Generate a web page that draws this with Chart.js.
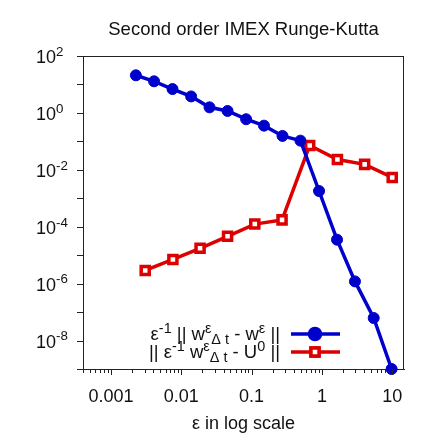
<!DOCTYPE html>
<html>
<head>
<meta charset="utf-8">
<script src="https://cdn.jsdelivr.net/npm/chart.js@4.4.1/dist/chart.umd.min.js"></script>
<style>
  body { margin: 0; background: #fff; }
  #errChart { display: block; }
</style>
</head>
<body>
<canvas id="errChart" width="436" height="436"></canvas>
<script>
// Data
const epsBlue = [0.00226, 0.0041, 0.0075, 0.0138, 0.0252, 0.0455, 0.0836, 0.15, 0.275, 0.495, 0.91, 1.64, 2.95, 5.45, 9.8];
const errBlue = [21, 12.9, 6.9, 3.8, 1.57, 1.17, 0.6, 0.357, 0.155, 0.106, 0.0018, 3.5e-5, 1.2e-6, 6.2e-8, 1.0e-9];
const epsRed = [0.00307, 0.0076, 0.0185, 0.0455, 0.111, 0.271, 0.67, 1.66, 4.05, 10];
const errRed = [2.9e-6, 7.1e-6, 1.74e-5, 4.6e-5, 1.24e-4, 1.74e-4, 0.072, 0.023, 0.0155, 0.0054];

const xDecades = [-4, -3, -2, -1, 0, 1];
const xLabels = ["0.001", "0.01", "0.1", "1", "10"];
const yExponents = [-9, -8, -7, -6, -5, -4, -3, -2, -1, 0, 1, 2];
const yLabelExponents = ["-8", "-6", "-4", "-2", "0", "2"];

const FONT = '"Liberation Sans", Arial, Helvetica, sans-serif';
const BLUE = "#0000cc";
const RED = "#dd0000";
const TITLE = "Second order IMEX Runge-Kutta";

// Legend entries as rich text pieces: [text, "n" | "sup" | "sub"]
const legendBlue = [["ε", "n"], ["-1", "sup"], [" || w", "n"], ["ε", "sup"], ["Δ t", "sub"], [" - w", "n"], ["ε", "sup"], [" ||", "n"]];
const legendRed = [["|| ε", "n"], ["-1", "sup"], [" w", "n"], ["ε", "sup"], ["Δ t", "sub"], [" - U", "n"], ["0", "sup"], [" ||", "n"]];

// Draw text with super/subscripts; align "left" or "right" at x
function drawRich(ctx, parts, x, yBase, size, ratio, align) {
  const small = size * ratio;
  let total = 0;
  parts.forEach((p) => {
    ctx.font = (p[1] === "n" ? size : small) + "px " + FONT;
    total += ctx.measureText(p[0]).width;
  });
  if (align === "right") x = x - total;
  ctx.textAlign = "left";
  ctx.textBaseline = "alphabetic";
  parts.forEach((p) => {
    ctx.font = (p[1] === "n" ? size : small) + "px " + FONT;
    let y = yBase;
    if (p[1] === "sup") y = yBase - size * 0.4;
    if (p[1] === "sub") y = yBase + size * 0.2;
    ctx.fillText(p[0], x, y);
    x += ctx.measureText(p[0]).width;
  });
}

// Title, frame, tick marks, y labels and legend
const decorPlugin = {
  id: "decor",
  afterDraw(chart) {
    const ctx = chart.ctx;
    const area = chart.chartArea;
    const xs = chart.scales.x;
    const ys = chart.scales.y;
    ctx.save();

    ctx.fillStyle = "#111";
    ctx.font = "18.5px " + FONT;
    ctx.textAlign = "center";
    ctx.textBaseline = "middle";
    ctx.fillText(TITLE, (area.left + area.right) / 2, 30);

    ctx.strokeStyle = "#222";
    ctx.lineWidth = 1;
    ctx.beginPath();
    ctx.moveTo(area.left, area.top + 0.5);
    ctx.lineTo(area.right, area.top + 0.5);
    ctx.moveTo(area.right - 0.5, area.top);
    ctx.lineTo(area.right - 0.5, area.bottom);
    ctx.stroke();

    // x ticks, major and minor
    ctx.beginPath();
    xDecades.forEach((d) => {
      for (let m = 1; m <= 9; m++) {
        const v = m * Math.pow(10, d);
        if (v < xs.min || v > xs.max) continue;
        const px = Math.round(xs.getPixelForValue(v)) + 0.5;
        ctx.moveTo(px, area.bottom);
        ctx.lineTo(px, area.bottom + (m === 1 ? 6 : 4));
      }
    });
    // y ticks, one per decade
    yExponents.forEach((e) => {
      const py = Math.round(ys.getPixelForValue(Math.pow(10, e))) + 0.5;
      ctx.moveTo(area.left, py);
      ctx.lineTo(area.left - 6, py);
    });
    ctx.stroke();

    // y labels 10^n, left aligned like the original
    ctx.fillStyle = "#111";
    yLabelExponents.forEach((e) => {
      const py = ys.getPixelForValue(Math.pow(10, Number(e)));
      drawRich(ctx, [["10", "n"], [e, "sup"]], 36, py + 7, 18, 0.74, "left");
    });

    // legend
    const rows = [
      { parts: legendBlue, y: 334, color: BLUE, idx: 0 },
      { parts: legendRed, y: 352, color: RED, idx: 1 },
    ];
    rows.forEach((r) => {
      ctx.fillStyle = "#111";
      drawRich(ctx, r.parts, 280, r.y + 6, 18.5, 0.78, "right");
      ctx.strokeStyle = r.color;
      ctx.lineWidth = 3.5;
      ctx.beginPath();
      ctx.moveTo(291, r.y);
      ctx.lineTo(340, r.y);
      ctx.stroke();
      const ds = chart.data.datasets[r.idx];
      Chart.helpers.drawPoint(ctx, {
        pointStyle: ds.pointStyle,
        radius: ds.pointRadius,
        borderWidth: ds.pointBorderWidth,
        rotation: 0,
      }, 315, r.y);
      ctx.fillStyle = ds.pointBackgroundColor;
      ctx.strokeStyle = ds.borderColor;
      ctx.lineWidth = ds.pointBorderWidth;
      ctx.fill();
      ctx.stroke();
    });
    ctx.restore();
  },
};

function renderErrorChart() {
  const ctx = document.getElementById("errChart").getContext("2d");
  new Chart(ctx, {
    type: "line",
    data: {
      datasets: [
        {
          label: "blue",
          data: epsBlue.map((x, i) => ({ x: x, y: errBlue[i] })),
          borderColor: BLUE,
          backgroundColor: BLUE,
          pointBackgroundColor: BLUE,
          borderWidth: 3.5,
          pointStyle: "circle",
          pointRadius: 5.5,
          pointBorderWidth: 1,
          clip: false,
        },
        {
          label: "red",
          data: epsRed.map((x, i) => ({ x: x, y: errRed[i] })),
          borderColor: RED,
          backgroundColor: "#ffffff",
          pointBackgroundColor: "#ffffff",
          borderWidth: 3.5,
          pointStyle: "rect",
          pointRadius: 5.7,
          pointBorderWidth: 3.5,
          clip: false,
        },
      ],
    },
    options: {
      responsive: false,
      animation: false,
      layout: { padding: { left: 0, right: 32, top: 56, bottom: 0 } },
      plugins: {
        legend: { display: false },
        tooltip: { enabled: false },
        title: { display: false },
      },
      scales: {
        x: {
          type: "logarithmic",
          position: "bottom",
          min: 4e-4,
          max: 14.7,
          grid: { display: false, drawTicks: false },
          border: { display: true, color: "#222", width: 1 },
          afterBuildTicks: (scale) => {
            scale.ticks = xLabels.map((l) => ({ value: Number(l), label: l }));
          },
          ticks: {
            autoSkip: false,
            maxRotation: 0,
            padding: 17,
            color: "#111",
            font: { family: FONT, size: 18 },
            callback: (value) => xLabels.find((l) => Number(l) === value) || "",
          },
          title: {
            display: true,
            text: "ε in log scale",
            color: "#111",
            font: { family: FONT, size: 18 },
            padding: { top: 0, bottom: 1 },
          },
          afterFit: (scale) => {
            scale.height = 67;
          },
        },
        y: {
          type: "logarithmic",
          min: 1e-9,
          max: 100,
          grid: { display: false, drawTicks: false },
          border: { display: true, color: "#222", width: 1 },
          ticks: { display: false },
          afterFit: (scale) => {
            scale.width = 83;
          },
        },
      },
    },
    plugins: [decorPlugin],
  });
}

renderErrorChart();
</script>
</body>
</html>
